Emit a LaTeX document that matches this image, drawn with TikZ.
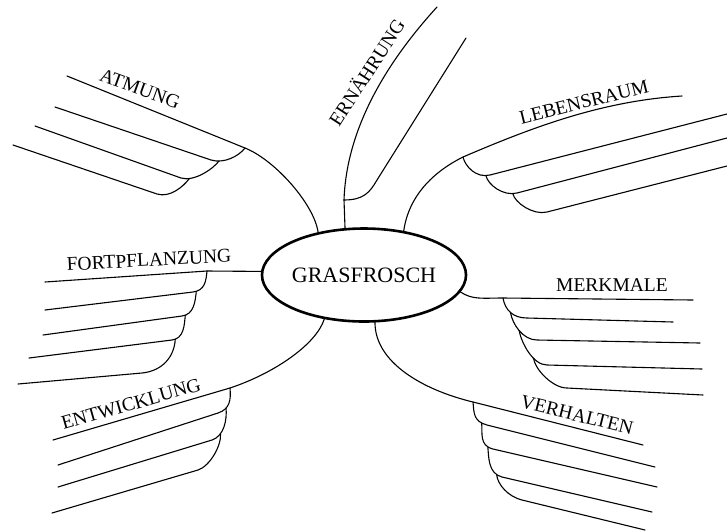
\documentclass[tikz,border=0pt]{standalone}
\usepackage{fontspec}
\setmainfont{Liberation Serif}
\usetikzlibrary{shapes.geometric}

\begin{document}
\begin{tikzpicture}[x=1pt,y=-1pt,line width=1.1pt,line cap=round,
    topic/.style={inner sep=0pt,font=\fontsize{19.5}{20}\selectfont},
    hub/.style={draw,ellipse,line width=2.6pt,minimum width=171pt,minimum height=93pt,
                inner sep=0pt,font=\fontsize{22}{24}\selectfont}]
\useasboundingbox (0,0) rectangle (727,531);

\node[hub] (frog) at (364,275) {GRASFROSCH};

\node[topic,rotate=-20] (atmung)     at (140,89)  {ATMUNG};
\node[topic,rotate=57]  (ernaehrung) at (366,72)  {ERNÄHRUNG};
\node[topic,rotate=14]  (lebensraum) at (584,102) {LEBENSRAUM};
\node[topic,rotate=3]   (fortpfl)    at (149,260) {FORTPFLANZUNG};
\node[topic,rotate=16]  (entw)       at (131,404) {ENTWICKLUNG};
\node[topic]            (merkmale)   at (612,285) {MERKMALE};
\node[topic,rotate=-14] (verhalten)  at (577,415) {VERHALTEN};

\path (245,148) coordinate (atm) (67,76) coordinate (atm0)
      (55,107) coordinate (atm1) (35,126) coordinate (atm2) (13,145) coordinate (atm3);
\draw (atm0) -- (atm) .. controls +(30,12) and +(-4,-28) .. (frog.137);
\draw (atm1) -- ++(156,53) .. controls +(13,4) and +(-6,8) .. (atm) coordinate[pos=.2] (atmj1);
\draw (atm2) -- ++(146,52) .. controls +(13,4) and +(-6,8) .. (atmj1) coordinate[pos=.2] (atmj2);
\draw (atm3) -- ++(144,49) .. controls +(13,4) and +(-6,8) .. (atmj2);

\path (344,200) coordinate (ern) (437,7) coordinate (ern0) (466,38) coordinate (ern1);
\draw (frog.112) -- (ern) .. controls +(2,-60) and +(-62,68) .. (ern0);
\draw (ern1) -- ++(-89,142) .. controls +(-7,12) and +(20,0) .. (ern);

\path (463,157) coordinate (leb) (682,96) coordinate (leb0)
      (727,114) coordinate (leb1) (727,138) coordinate (leb2) (727,166) coordinate (leb3);
\draw (frog.48) .. controls +(5,-35) and +(-30,15) .. (leb) .. controls +(70,-30) and +(-80,5) .. (leb0);
\draw (leb1) -- ++(-237,61) .. controls +(-14,3.5) and +(2,9) .. (leb) coordinate[pos=.1] (lebj1);
\draw (leb2) -- ++(-210,55) .. controls +(-14,3.5) and +(2,9) .. (lebj1) coordinate[pos=.1] (lebj2);
\draw (leb3) -- ++(-180,46) .. controls +(-14,3.5) and +(2,9) .. (lebj2);

\path (207,271) coordinate (fort) (45,282) coordinate (fort0)
      (45,310) coordinate (fort1) (43,335) coordinate (fort2) (29,358) coordinate (fort3) (18,384) coordinate (fort4);
\draw (fort0) -- (fort) -- (frog.178);
\draw (fort1) -- ++(148,-18) .. controls +(12,-1.5) and +(-1,10) .. (fort) coordinate[pos=.1] (fortj1);
\draw (fort2) -- ++(139,-19) .. controls +(12,-1.5) and +(-1,10) .. (fortj1) coordinate[pos=.1] (fortj2);
\draw (fort3) -- ++(143,-18) .. controls +(12,-1.5) and +(-1,10) .. (fortj2) coordinate[pos=.1] (fortj3);
\draw (fort4) -- ++(124,-11) .. controls +(20,-2) and +(-1,18) .. (fortj3);

\path (230,388) coordinate (ent) (53,440) coordinate (ent0)
      (58,465) coordinate (ent1) (58,487) coordinate (ent2) (52,513) coordinate (ent3);
\draw (ent0) -- (ent) .. controls +(45,-15) and +(-8,25) .. (frog.228);
\draw (ent1) -- ++(160,-52) .. controls +(12,-4) and +(1,12) .. (ent) coordinate[pos=.3] (entj1);
\draw (ent2) -- ++(154,-47) .. controls +(12,-4) and +(1,12) .. (entj1) coordinate[pos=.3] (entj2);
\draw (ent3) -- ++(146,-43) .. controls +(12,-4) and +(1,12) .. (entj2);

\path (503,298) coordinate (merk) (693,300) coordinate (merk0)
      (673,322) coordinate (merk1) (700,343) coordinate (merk2) (702,369) coordinate (merk3) (703,395) coordinate (merk4);
\draw (frog.-10) .. controls +(12,8) and +(-20,0) .. (merk) -- (merk0);
\draw (merk1) -- ++(-146,-4) .. controls +(-14,0) and +(2,12) .. (merk) coordinate[pos=.5] (merkj1);
\draw (merk2) -- ++(-163,-3) .. controls +(-14,0) and +(2,12) .. (merkj1) coordinate[pos=.5] (merkj2);
\draw (merk3) -- ++(-155,-4) .. controls +(-14,0) and +(2,12) .. (merkj2) coordinate[pos=.35] (merkj3);
\draw (merk4) -- ++(-136,-7) .. controls +(-14,0) and +(2,12) .. (merkj3);

\path (473,402) coordinate (verh) (643,445) coordinate (verh0)
      (655,467) coordinate (verh1) (657,487) coordinate (verh2) (652,512) coordinate (verh3) (645,530) coordinate (verh4);
\draw (frog.-77) .. controls +(0,40) and +(-50,-12) .. (verh) -- (verh0);
\draw (verh1) -- ++(-168,-42) .. controls +(-14,-3.5) and +(1,10) .. (verh) coordinate[pos=.15] (verhj1);
\draw (verh2) -- ++(-164,-38) .. controls +(-14,-3.5) and +(1,10) .. (verhj1) coordinate[pos=.15] (verhj2);
\draw (verh3) -- ++(-150,-35) .. controls +(-14,-3.5) and +(1,10) .. (verhj2) coordinate[pos=.15] (verhj3);
\draw (verh4) -- ++(-123,-30) .. controls +(-14,-3.5) and +(1,10) .. (verhj3);
\end{tikzpicture}
\end{document}
